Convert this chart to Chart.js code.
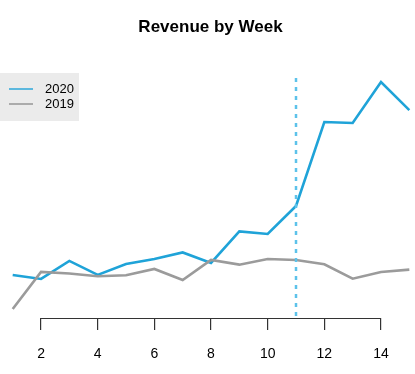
<!DOCTYPE html>
<html>
<head>
<meta charset="utf-8">
<script src="https://cdn.jsdelivr.net/npm/chart.js@4"></script>
<style>
  html, body { margin:0; padding:0; background:#fff; }
  #wrap { width:415px; height:374px; }
</style>
</head>
<body>
<div id="wrap"><canvas id="chart"></canvas></div>
<script>
// ====== данные ======
const weeks = [1,2,3,4,5,6,7,8,9,10,11,12,13,14,15];
const rev2020 = [55, 51, 69, 55, 66, 71, 77.5, 67, 98.5, 96, 124, 208, 207, 248, 220];
const rev2019 = [21, 58, 56.5, 53.7, 54.7, 61, 50, 70, 65.3, 71, 70, 65.7, 51.3, 58, 60.3];
const xTicks = [2,4,6,8,10,12,14];
const markWeek = 11;
const seriesNames = ['2020','2019'];

const FONT = "'Liberation Sans', Arial, sans-serif";
const C2020 = '#1fa3d8';
const C2019 = '#9b9b9b';

// y-диапазон как в R: +4% с каждой стороны
const all = rev2020.concat(rev2019);
const yLo = Math.min(...all), yHi = Math.max(...all);
const pad = (yHi - yLo) * 0.04;

// ====== плагины ======
const markLine = {
  id: 'markLine',
  afterDatasetsDraw(chart){
    const {ctx, chartArea, scales} = chart;
    const x = scales.x.getPixelForValue(markWeek);
    ctx.save();
    ctx.strokeStyle = '#5cc2ea';
    ctx.lineWidth = 2.5;
    ctx.setLineDash([4,5]);
    ctx.beginPath();
    ctx.moveTo(x, chartArea.top + 5);
    ctx.lineTo(x, chartArea.bottom);
    ctx.stroke();
    ctx.restore();
  }
};

// линия оси только от первого до последнего тика (как в R)
const rAxis = {
  id: 'rAxis',
  afterDraw(chart){
    const {ctx, chartArea, scales} = chart;
    const x0 = scales.x.getPixelForValue(xTicks[0]);
    const x1 = scales.x.getPixelForValue(xTicks[xTicks.length-1]);
    ctx.save();
    ctx.strokeStyle = '#333';
    ctx.lineWidth = 1.2;
    ctx.beginPath();
    ctx.moveTo(x0, chartArea.bottom + 0.5);
    ctx.lineTo(x1, chartArea.bottom + 0.5);
    ctx.stroke();
    ctx.restore();
  }
};

const boxLegend = {
  id: 'boxLegend',
  afterDraw(chart){
    const {ctx} = chart;
    const colors = [C2020, C2019];
    ctx.save();
    ctx.fillStyle = '#ebebeb';
    ctx.fillRect(0, 73, 79, 48);
    ctx.font = '13px ' + FONT;
    ctx.textBaseline = 'middle';
    ctx.fillStyle = '#000';
    seriesNames.forEach((name, i) => {
      const y = 89 + i * 15;
      ctx.strokeStyle = colors[i];
      ctx.globalAlpha = i === 0 ? 0.7 : 0.8;
      ctx.lineWidth = 2;
      ctx.beginPath();
      ctx.moveTo(9, y); ctx.lineTo(33, y);
      ctx.stroke();
      ctx.globalAlpha = 1;
      ctx.fillText(name, 45, y + 0.5);
    });
    ctx.restore();
  }
};

// заголовок по центру с небольшим сдвигом вправо, как в оригинале
const titleText = {
  id: 'titleText',
  afterDraw(chart){
    const {ctx} = chart;
    ctx.save();
    ctx.font = 'bold 17px ' + FONT;
    ctx.fillStyle = '#000';
    ctx.textAlign = 'center';
    ctx.textBaseline = 'alphabetic';
    ctx.fillText('Revenue by Week', 210.5, 32);
    ctx.restore();
  }
};

new Chart(document.getElementById('chart'), {
  type: 'line',
  data: {
    labels: weeks,
    datasets: [
      { label: seriesNames[0], data: weeks.map((w,i)=>({x:w, y:rev2020[i]})),
        borderColor: C2020, borderWidth: 2.6, pointRadius: 0, tension: 0, order: 1 },
      { label: seriesNames[1], data: weeks.map((w,i)=>({x:w, y:rev2019[i]})),
        borderColor: C2019, borderWidth: 2.6, pointRadius: 0, tension: 0, order: 0 }
    ]
  },
  options: {
    responsive: true,
    maintainAspectRatio: false,
    animation: false,
    layout: { padding: { top: 73 } },
    plugins: {
      legend: { display: false },
      tooltip: { enabled: false },
      title: { display: false }
    },
    scales: {
      x: {
        type: 'linear',
        min: 0.552, max: 15.2,
        afterBuildTicks: s => { s.ticks = xTicks.map(v => ({value: v})); },
        afterFit: s => { s.height = 56; },
        border: { display: false },
        grid: { drawOnChartArea: false, drawTicks: true, tickLength: 12, tickColor: '#333', lineWidth: 1.2 },
        ticks: { color: '#000', padding: 16, maxRotation: 0, autoSkip: false,
                 font: { family: FONT, size: 14 } }
      },
      y: { display: false, min: yLo - pad, max: yHi + pad }
    }
  },
  plugins: [markLine, rAxis, boxLegend, titleText]
});
</script>
</body>
</html>
